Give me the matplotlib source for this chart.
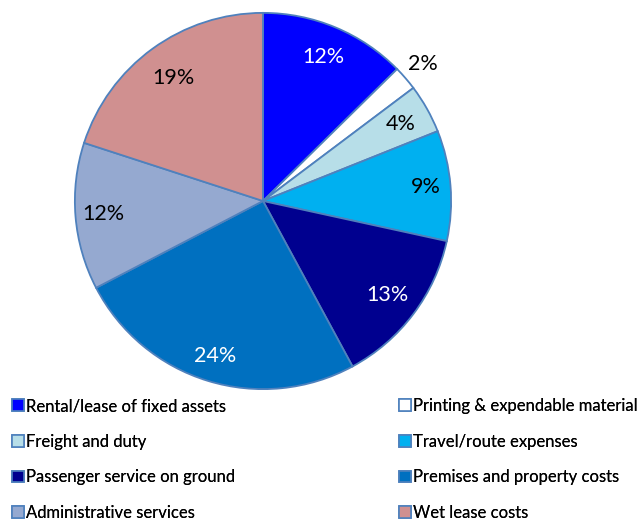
import numpy as np
import matplotlib.pyplot as plt
from matplotlib.patches import Patch

categories = ["Rental/lease of fixed assets", "Printing & expendable material",
              "Freight and duty", "Travel/route expenses",
              "Passenger service on ground", "Premises and property costs",
              "Administrative services", "Wet lease costs"]
shares = [12, 2, 4, 9, 13, 24, 12, 19]
colors = ["#0000FF", "#FFFFFF", "#B7DEE8", "#00B0F0",
          "#00008F", "#0070C0", "#95A9D0", "#D09090"]

# label placement (fraction of radius) and text colour per slice
label_r = [0.83, 1.12, 0.84, 0.87, 0.83, 0.86, 0.85, 0.81]
label_c = ["white", "black", "black", "black", "white", "white", "black", "black"]
edge = "#4F81BD"

plt.rcParams['font.family'] = ['Lato', 'DejaVu Sans']

fig = plt.figure(figsize=(6.44, 5.22), dpi=100)
cx, cy, R = 263, 201, 190
W, H = 644, 522
ax = fig.add_axes([(cx - R) / W, (H - cy - R) / H, 2 * R / W, 2 * R / H])

wedges, _ = ax.pie(shares, colors=colors, startangle=90, counterclock=False,
                   radius=1, wedgeprops=dict(edgecolor=edge, linewidth=1.3))
ax.set_xlim(-1.01, 1.01)
ax.set_ylim(-1.01, 1.01)
ax.set_aspect('equal')

for w, v, r, c in zip(wedges, shares, label_r, label_c):
    ang = np.deg2rad((w.theta1 + w.theta2) / 2)
    ax.text(r * np.cos(ang), r * np.sin(ang), f"{v}%", color=c,
            fontsize=15.5, ha='center', va='center', clip_on=False)

handles = [Patch(facecolor=col, edgecolor=edge, linewidth=1.2, label=lab)
           for col, lab in zip(colors, categories)]

legend_kw = dict(loc='upper left', frameon=False, fontsize=12,
                 handlelength=0.7, handleheight=0.7, handletextpad=0.12,
                 labelspacing=1.18, borderaxespad=0, borderpad=0)
# two single-column legends: left and right halves
for col, x0 in ((0, 12 / W), (1, 399 / W)):
    idx = [col, col + 2, col + 4, col + 6]
    leg = fig.legend([handles[i] for i in idx], [categories[i] for i in idx],
                     bbox_to_anchor=(x0, 1 - 398 / H), **legend_kw)
    fig.add_artist(leg)

fig.savefig("out.png", dpi=100)
